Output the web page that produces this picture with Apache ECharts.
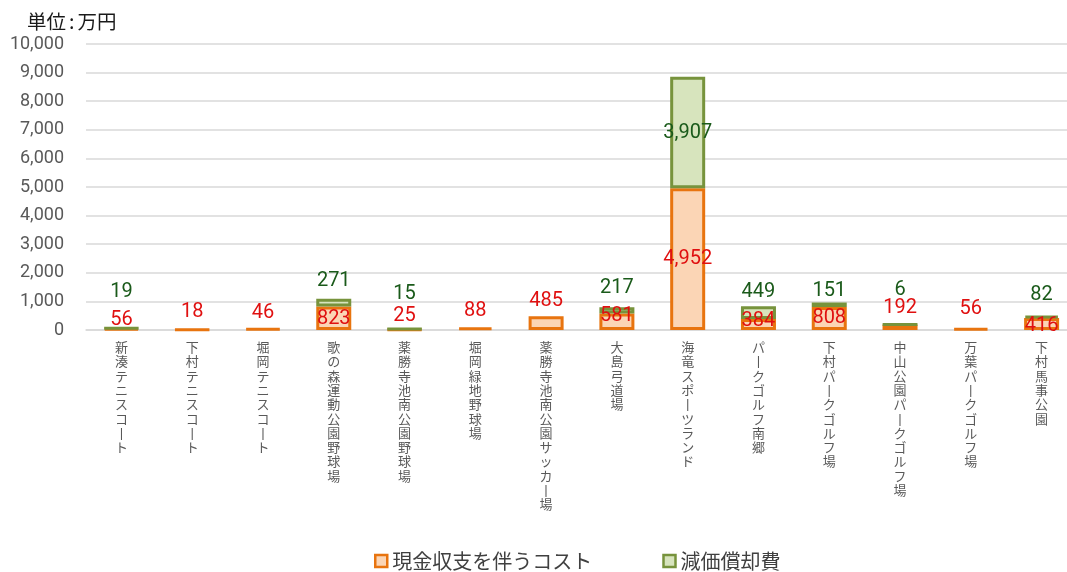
<!DOCTYPE html>
<html><head><meta charset="utf-8">
<script src="https://cdn.jsdelivr.net/npm/echarts@6/dist/echarts.min.js"></script>
<style>html,body{margin:0;padding:0;background:#fff}#c{width:1067px;height:572px}</style>
</head><body><div id="c"></div>
<script>
// ---- data ----
const categories = ['新湊テニスコート','下村テニスコート','堀岡テニスコート','歌の森運動公園野球場','薬勝寺池南公園野球場','堀岡緑地野球場','薬勝寺池南公園サッカー場','大島弓道場','海竜スポーツランド','パークゴルフ南郷','下村パークゴルフ場','中山公園パークゴルフ場','万葉パークゴルフ場','下村馬事公園'];
const cashCost = [56, 18, 46, 823, 25, 88, 485, 581, 4952, 384, 808, 192, 56, 416];
const depreciation = [19, null, null, 271, 15, null, null, 217, 3907, 449, 151, 6, null, 82];
const seriesNames = ['現金収支を伴うコスト', '減価償却費'];
const unitLabel = '単位';
const unitValue = '万円';

// ---- label placement (px from bar top; '50%' = centred) ----
const cashLabelDy = [-8, -16, -15, 13, -12, -16.5, -15, 2.6, '50%', 1.5, 11.6, -17, -19, 7.4];
const depLabelDy = [-35, 0, 0, -17.7, -34, 0, 0, -18.7, '50%', -13.7, -11.6, -33, 0, -20];

const FONT = "Roboto, 'Noto Sans CJK JP', sans-serif";
const CJK = "'Noto Sans CJK JP', sans-serif";
const fmt = v => Number(v).toLocaleString('en-US');
const vertical = s => s.replace(/ー/g, '丨').split('').join('\n');
const pos = d => d === '50%' ? ['50%', '50%'] : ['50%', d];

const cashStyle = { color: '#FBD5B5', borderColor: '#E8740F', borderWidth: 3 };
const depStyle = { color: '#D7E4BD', borderColor: '#77933C', borderWidth: 3 };

const chart = echarts.init(document.getElementById('c'), null, { renderer: 'canvas' });
chart.setOption({
  animation: false,
  backgroundColor: '#fff',
  title: {
    text: '{a|' + unitLabel + '}{c|:}{a|' + unitValue + '}', left: 22, top: 7,
    textStyle: {
      fontWeight: 'normal',
      rich: {
        a: { fontSize: 19.5, fontWeight: 'normal', color: '#1a1a1a', fontFamily: CJK },
        c: { fontSize: 19.5, fontWeight: 'normal', color: '#1a1a1a', fontFamily: CJK, padding: [0, 3, 0, 3] }
      }
    }
  },
  grid: { left: 86, top: 44, width: 991, height: 286, outerBoundsMode: 'none' },
  legend: {
    left: 369, top: 546, itemWidth: 12, itemHeight: 12, itemGap: 70,
    textStyle: { fontSize: 20, color: '#404040', fontFamily: CJK },
    data: [
      { name: seriesNames[0], icon: 'rect', itemStyle: { color: '#FBD5B5', borderColor: '#E8740F', borderWidth: 2.5 } },
      { name: seriesNames[1], icon: 'rect', itemStyle: { color: '#D7E4BD', borderColor: '#77933C', borderWidth: 2.5 } }
    ]
  },
  xAxis: {
    type: 'category', data: categories,
    axisTick: { show: false },
    axisLine: { lineStyle: { color: '#d9d9d9', width: 1.5 } },
    axisLabel: {
      interval: 0, formatter: vertical, fontSize: 13, lineHeight: 14.3, margin: 10,
      color: '#595959', fontFamily: CJK, verticalAlign: 'top'
    }
  },
  yAxis: {
    type: 'value', min: 0, max: 10000, interval: 1000,
    axisLine: { show: false }, axisTick: { show: false },
    splitLine: { lineStyle: { color: '#d9d9d9', width: 1.5 } },
    axisLabel: { formatter: fmt, fontSize: 18, color: '#595959', fontFamily: FONT, margin: 22 }
  },
  series: [
    {
      name: seriesNames[0], type: 'bar', stack: 'total', barWidth: 35,
      itemStyle: cashStyle,
      label: { show: true, formatter: p => fmt(p.value), fontSize: 20, color: '#E01010', fontFamily: FONT, align: 'center', verticalAlign: 'middle' },
      data: cashCost.map((v, i) => ({ value: v, label: { position: pos(cashLabelDy[i]) } }))
    },
    {
      name: seriesNames[1], type: 'bar', stack: 'total', barWidth: 35,
      itemStyle: depStyle,
      label: { show: true, formatter: p => fmt(p.value), fontSize: 20, color: '#1A5A1A', fontFamily: FONT, align: 'center', verticalAlign: 'middle' },
      data: depreciation.map((v, i) => ({ value: v, label: { position: pos(depLabelDy[i]) } }))
    }
  ]
});
</script></body></html>
